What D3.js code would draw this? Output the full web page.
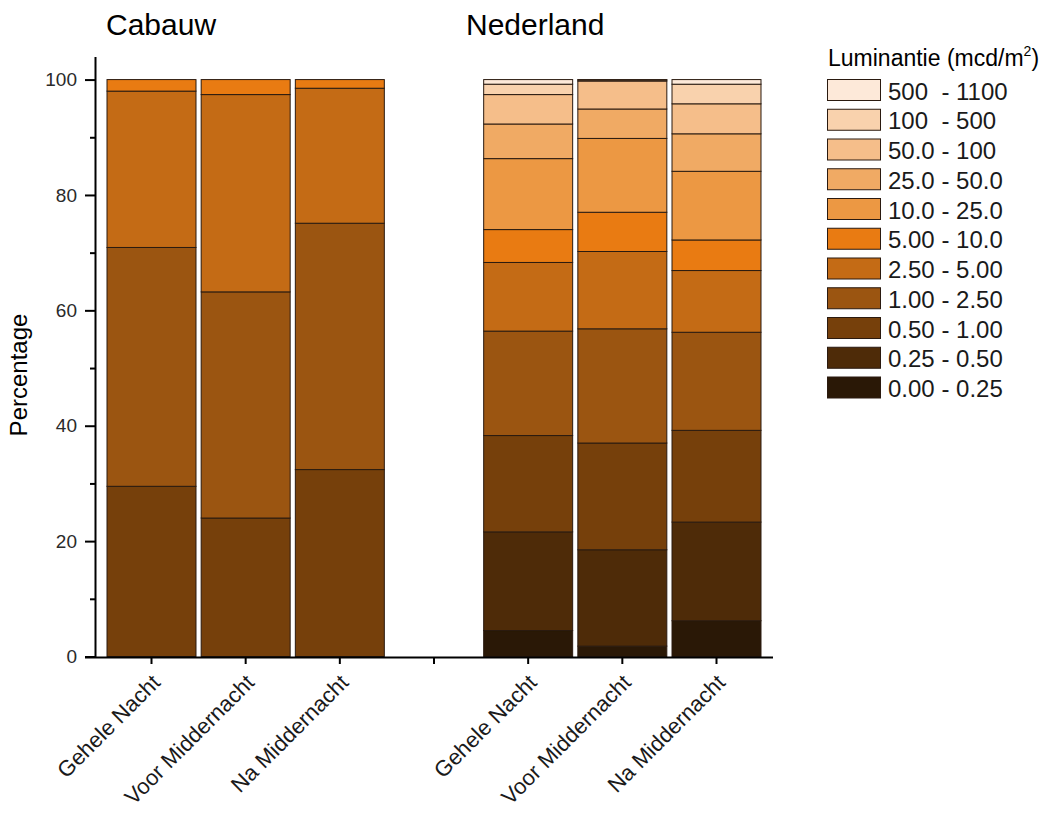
<!DOCTYPE html>
<html>
<head>
<meta charset="utf-8">
<script src="https://cdn.jsdelivr.net/npm/d3@7"></script>
<style>
  html, body { margin: 0; padding: 0; background: #ffffff; }
  svg { display: block; font-family: "Liberation Sans", Arial, sans-serif; }
</style>
</head>
<body>
<svg id="chart" width="1057" height="814"></svg>
<script>
// ---- data (bottom class first) ----
const groupTitles = ["Cabauw", "Nederland"];
const periods = ["Gehele Nacht", "Voor Middernacht", "Na Middernacht"];
const classLabels = ["0.00 - 0.25", "0.25 - 0.50", "0.50 - 1.00", "1.00 - 2.50", "2.50 - 5.00",
  "5.00 - 10.0", "10.0 - 25.0", "25.0 - 50.0", "50.0 - 100", "100  - 500", "500  - 1100"];
const classColors = ["#2a1806", "#4e2b08", "#76400b", "#9b5511", "#c46b15",
  "#e97b12", "#ec9843", "#f0aa64", "#f5be8a", "#f9d2ad", "#fde9d9"];

const cabauwGehele = [0, 0, 29.5, 41.4, 27.1, 2.0, 0, 0, 0, 0, 0];
const cabauwVoor   = [0, 0, 24.0, 39.2, 34.2, 2.6, 0, 0, 0, 0, 0];
const cabauwNa     = [0, 0, 32.4, 42.7, 23.4, 1.5, 0, 0, 0, 0, 0];
const nlGehele = [4.5, 17.1, 16.7, 18.1, 11.9, 5.7, 12.3, 6.0, 5.1, 1.8, 0.8];
const nlVoor   = [1.8, 16.7, 18.5, 19.8, 13.4, 6.8, 12.8, 5.1, 4.85, 0.2, 0.05];
const nlNa     = [6.2, 17.1, 15.9, 17.0, 10.7, 5.3, 11.9, 6.5, 5.2, 3.4, 0.8];

const yTicks = [0, 20, 40, 60, 80, 100];
const yMinorTicks = [10, 30, 50, 70, 90];

// category slots (one empty slot between the groups)
const slots = [
  { key: "c0", label: periods[0], values: cabauwGehele },
  { key: "c1", label: periods[1], values: cabauwVoor },
  { key: "c2", label: periods[2], values: cabauwNa },
  { key: "gap", label: "", values: null },
  { key: "n0", label: periods[0], values: nlGehele },
  { key: "n1", label: periods[1], values: nlVoor },
  { key: "n2", label: periods[2], values: nlNa }
];

const svg = d3.select("#chart");

const x = d3.scaleBand()
  .domain(slots.map(d => d.key))
  .range([95, 773])
  .paddingInner(0.055)
  .paddingOuter(0.1275);

const y = d3.scaleLinear().domain([0, 104]).range([656.5, 56.5]);

// ---- bars ----
const barG = svg.append("g");
slots.filter(s => s.values).forEach(s => {
  let cum = 0;
  const segs = s.values.map((v, i) => {
    const seg = { y0: cum, y1: cum + v, i: i, v: v };
    cum += v;
    return seg;
  }).filter(d => d.v > 0);
  barG.selectAll(null)
    .data(segs)
    .enter().append("rect")
    .attr("x", x(s.key))
    .attr("width", x.bandwidth())
    .attr("y", d => y(d.y1))
    .attr("height", d => y(d.y0) - y(d.y1))
    .attr("fill", d => classColors[d.i])
    .attr("stroke", "#2a1a10")
    .attr("stroke-width", 1);
});

// ---- axes ----
const yAxis = svg.append("g")
  .attr("transform", "translate(95,0)")
  .call(d3.axisLeft(y).tickValues(yTicks).tickSize(10).tickSizeOuter(0).tickPadding(8));
yAxis.select(".domain").attr("stroke", "#000").attr("stroke-width", 2);
yAxis.selectAll(".tick line").attr("stroke", "#000").attr("stroke-width", 2);
yAxis.selectAll(".tick text")
  .attr("font-size", 19).attr("fill", "#2a2a2a")
  .style("font-family", "'Liberation Sans', Arial, sans-serif");

const yMinor = svg.append("g")
  .attr("transform", "translate(95,0)")
  .call(d3.axisLeft(y).tickValues(yMinorTicks).tickSize(5).tickSizeOuter(0).tickFormat(""));
yMinor.select(".domain").remove();
yMinor.selectAll(".tick line").attr("stroke", "#000").attr("stroke-width", 2);

const xAxis = svg.append("g")
  .attr("transform", "translate(0,657)")
  .call(d3.axisBottom(x).tickSize(7).tickSizeOuter(0).tickFormat(""));
xAxis.select(".domain").attr("stroke", "#000").attr("stroke-width", 2).attr("d", "M85,0.5H773");
xAxis.selectAll(".tick line").attr("stroke", "#000").attr("stroke-width", 2);

// rotated category labels
svg.append("g").selectAll("text")
  .data(slots.filter(s => s.label))
  .enter().append("text")
  .attr("transform", d => `translate(${x(d.key) + x.bandwidth() / 2 + 10},${684}) rotate(-45)`)
  .attr("text-anchor", "end")
  .attr("font-size", 22)
  .attr("fill", "#1a1a1a")
  .text(d => d.label);

// y label
svg.append("text")
  .attr("transform", "translate(27,375) rotate(-90)")
  .attr("text-anchor", "middle")
  .attr("font-size", 24)
  .attr("fill", "#000")
  .text("Percentage");

// group titles
svg.append("text").attr("x", 106).attr("y", 35).attr("font-size", 30).attr("fill", "#000").text(groupTitles[0]);
svg.append("text").attr("x", 466).attr("y", 35).attr("font-size", 30).attr("fill", "#000").text(groupTitles[1]);

// ---- legend ----
const leg = svg.append("g");
const lt = leg.append("text").attr("x", 828).attr("y", 66).attr("font-size", 23).attr("fill", "#000");
lt.append("tspan").text("Luminantie (mcd/m");
lt.append("tspan").attr("font-size", 14).attr("dy", -10).text("2");
lt.append("tspan").attr("dy", 10).text(")");

const legendOrder = d3.range(classLabels.length).reverse();
const rows = leg.selectAll("g.row")
  .data(legendOrder)
  .enter().append("g")
  .attr("class", "row")
  .attr("transform", (d, k) => `translate(0,${79.5 + k * 29.75})`);
rows.append("rect")
  .attr("x", 827.5).attr("y", 0).attr("width", 53).attr("height", 21)
  .attr("fill", d => classColors[d])
  .attr("stroke", "#2a1a10").attr("stroke-width", 1);
rows.append("text")
  .attr("x", 888).attr("y", 20)
  .attr("font-size", 24)
  .attr("fill", "#1a1a1a")
  .style("white-space", "pre")
  .text(d => classLabels[d]);
</script>
</body>
</html>
